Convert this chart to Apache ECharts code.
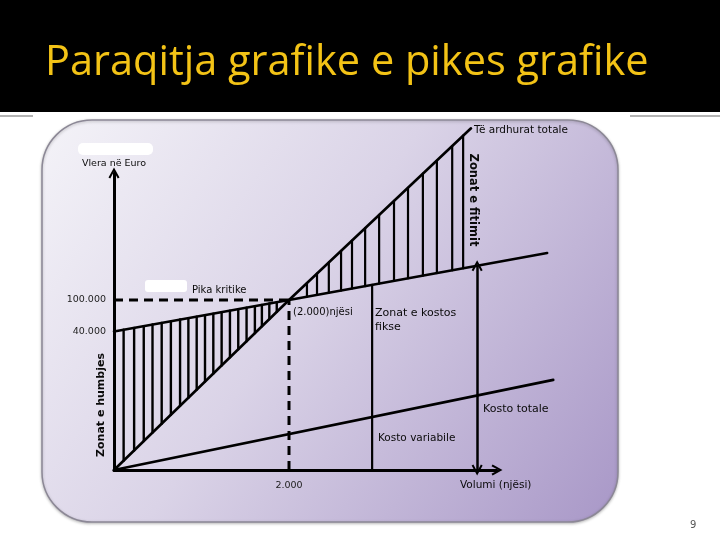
<!DOCTYPE html>
<html>
<head>
<meta charset="utf-8">
<script src="https://cdn.jsdelivr.net/npm/echarts@6/dist/echarts.min.js"></script>
<style>html,body{margin:0;padding:0;background:#fff;}#c{width:720px;height:540px;}</style>
</head>
<body>
<div id="c"></div>
<script>
// ---- data ----
const titleText = 'Paraqitja grafike e pikes grafike';
const revenueX = [0, 2000, 4080];
const revenueY = [0, 100000, 201000];
const totalCostX = [0, 2000, 4950];
const totalCostY = [81500, 100000, 127600];
const varCostX = [0, 5020];
const varCostY = [0, 53000];
const breakEven = [2000, 100000];
const lossHatchX = [110, 230, 340, 440, 545, 650, 755, 850, 945, 1040, 1135, 1230, 1325, 1420, 1515, 1610, 1690, 1775, 1860];
const profitHatchX = [2205, 2320, 2455, 2595, 2720, 2870, 3030, 3200, 3360, 3530, 3690, 3865, 3990];
const fixedZoneX = 2950;
const arrowX = 4150;
const yTickValues = [81500, 100000];
const yTickLabels = ['40.000', '100.000'];
const xTickValues = [2000];
const xTickLabels = ['2.000'];
const xMax = 4377;
const yMax = 174700;

function interp(xs, ys, x) {
  for (let i = 0; i < xs.length - 1; i++) {
    if (x <= xs[i + 1] || i === xs.length - 2) {
      const t = (x - xs[i]) / (xs[i + 1] - xs[i]);
      return ys[i] + t * (ys[i + 1] - ys[i]);
    }
  }
}
// segments [x1, y1, x2, y2, lineWidth]
const segs = (xs, ys, w) => xs.slice(1).map((x, i) => [xs[i], ys[i], x, ys[i + 1], w]);
const lineData = segs(revenueX, revenueY, 2.6)
  .concat(segs(totalCostX, totalCostY, 2.6))
  .concat(segs(varCostX, varCostY, 2.6));

const hatchData = lossHatchX.map(x => [x, interp(revenueX, revenueY, x), x, interp(totalCostX, totalCostY, x), 2.4])
  .concat(profitHatchX.map(x => [x, interp(totalCostX, totalCostY, x), x, interp(revenueX, revenueY, x), 2.2]))
  .concat([[fixedZoneX, 0, fixedZoneX, interp(totalCostX, totalCostY, fixedZoneX), 2.2]]);

const chev = 'path://M0,9 L5,0 L10,9 L8.4,10 L5,3.6 L1.6,10 Z';
const FONT = 'DejaVu Sans';
const txt = (t, x, y, o) => Object.assign({
  type: 'text', x: x, y: y, z: 50,
  style: Object.assign({ text: t, fill: '#0a0a0a', fontSize: 10.5, fontFamily: FONT, align: 'left', verticalAlign: 'middle' }, (o && o.style) || {})
}, o && o.rotation !== undefined ? { rotation: o.rotation } : {});

const segRender = function (params, api) {
  const p1 = api.coord([api.value(0), api.value(1)]);
  const p2 = api.coord([api.value(2), api.value(3)]);
  return { type: 'line', shape: { x1: p1[0], y1: p1[1], x2: p2[0], y2: p2[1] },
    style: { stroke: '#000', lineWidth: api.value(4), lineCap: 'round' } };
};

const chart = echarts.init(document.getElementById('c'), null, { renderer: 'canvas' });
chart.setOption({
  animation: false,
  backgroundColor: '#ffffff',
  grid: { left: 114, top: 173, right: 223, bottom: 70 },
  xAxis: {
    type: 'value', min: 0, max: xMax,
    axisLine: { show: true, symbol: ['none', chev], symbolSize: [11, 11], lineStyle: { color: '#000', width: 3 } },
    axisTick: { show: false }, splitLine: { show: false },
    axisLabel: { customValues: xTickValues, formatter: v => xTickLabels[xTickValues.indexOf(v)] || '', color: '#222', fontSize: 9.5, fontFamily: FONT, margin: 11 }
  },
  yAxis: {
    type: 'value', min: 0, max: yMax,
    name: 'Vlera në Euro', nameLocation: 'end', nameGap: 4,
    nameTextStyle: { color: '#0a0a0a', fontSize: 9.5, fontFamily: FONT, align: 'center' },
    axisLine: { show: true, symbol: ['none', chev], symbolSize: [11, 11], lineStyle: { color: '#000', width: 3 } },
    axisTick: { show: false }, splitLine: { show: false },
    axisLabel: { customValues: yTickValues, formatter: v => yTickLabels[yTickValues.indexOf(v)] || '', color: '#222', fontSize: 9.5, fontFamily: FONT, margin: 8 }
  },
  graphic: [
    { type: 'rect', z: -10, shape: { x: 0, y: 0, width: 720, height: 112 }, style: { fill: '#000' } },
    { type: 'text', z: -5, x: 45, y: 63, style: { text: titleText, fill: '#f3c316', fontSize: 41.5, fontFamily: 'Open Sans', align: 'left', verticalAlign: 'middle' } },
    { type: 'line', z: -5, shape: { x1: 0, y1: 116, x2: 33, y2: 116 }, style: { stroke: '#9a9a9a', lineWidth: 1.5 } },
    { type: 'line', z: -5, shape: { x1: 630, y1: 116, x2: 720, y2: 116 }, style: { stroke: '#9a9a9a', lineWidth: 1.5 } },
    { type: 'rect', z: -8, shape: { x: 42, y: 120, width: 576, height: 402, r: 50 },
      style: { fill: new echarts.graphic.LinearGradient(0, 0, 1, 1, [
        { offset: 0, color: '#f4f3f8' }, { offset: 0.45, color: '#dad3e7' }, { offset: 1, color: '#a897c7' }]),
        stroke: '#8c8896', lineWidth: 1.5, shadowBlur: 3, shadowColor: 'rgba(0,0,0,0.25)', shadowOffsetY: 1 } },
    { type: 'rect', z: -4, shape: { x: 78, y: 143, width: 75, height: 12, r: 5 }, style: { fill: '#ffffff' } },
    { type: 'rect', z: -4, shape: { x: 145, y: 280, width: 42, height: 12, r: 3 }, style: { fill: '#ffffff' } },
    txt('Pika kritike', 192, 290, { style: { fontSize: 10 } }),
    txt('(2.000)njësi', 293, 312, { style: { fontSize: 10 } }),
    txt('Zonat e kostos', 375, 313, { style: { fontSize: 11 } }),
    txt('fikse', 375, 327, { style: { fontSize: 11 } }),
    txt('Kosto totale', 483, 409, { style: { fontSize: 11 } }),
    txt('Kosto variabile', 378, 438),
    txt('Volumi (njësi)', 460, 485),
    txt('Të ardhurat totale', 474, 130, { style: { fontSize: 10.5 } }),
    txt('Zonat e fitimit', 473, 200, { rotation: -Math.PI / 2, style: { align: 'center', fontSize: 11.5, fontWeight: 'bold' } }),
    txt('Zonat e humbjes', 101, 405, { rotation: Math.PI / 2, style: { align: 'center', fontSize: 11, fontWeight: 'bold' } }),
    txt('9', 690, 525, { style: { fill: '#555', fontSize: 10 } })
  ],
  series: [
    { name: 'lines', type: 'custom', clip: false, z: 5, data: lineData, renderItem: segRender },
    { name: 'dashH', type: 'line', data: [[0, breakEven[1]], breakEven], symbol: 'none', z: 4,
      lineStyle: { color: '#000', width: 3, type: [9, 6] } },
    { name: 'dashV', type: 'line', data: [[breakEven[0], 0], breakEven], symbol: 'none', z: 4,
      lineStyle: { color: '#000', width: 3, type: [9, 6] },
      markLine: { silent: true, symbol: [chev, chev], symbolSize: [11, 11], label: { show: false },
        lineStyle: { color: '#000', width: 2.5, type: 'solid' },
        data: [[{ coord: [arrowX, 0] }, { coord: [arrowX, interp(totalCostX, totalCostY, arrowX)] }]] } },
    { name: 'hatch', type: 'custom', clip: false, z: 3, data: hatchData, renderItem: segRender }
  ]
});
</script>
</body>
</html>
